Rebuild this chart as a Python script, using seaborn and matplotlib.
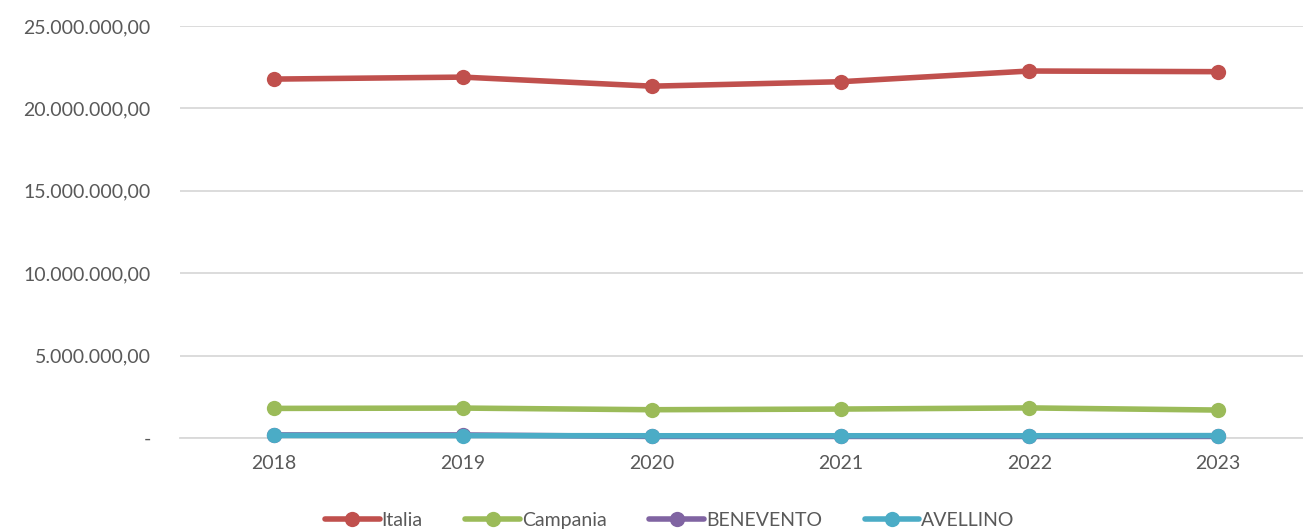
import matplotlib
matplotlib.use('Agg')
import matplotlib.pyplot as plt
import seaborn as sns
import pandas as pd
from matplotlib.ticker import FuncFormatter

# values
anni = ['2018', '2019', '2020', '2021', '2022', '2023']
italia = [21780000, 21900000, 21350000, 21620000, 22270000, 22230000]
campania = [1800000, 1820000, 1720000, 1760000, 1830000, 1700000]
benevento = [190000, 190000, 100000, 100000, 100000, 100000]
avellino = [160000, 150000, 140000, 140000, 140000, 150000]

serie = ['Italia', 'Campania', 'BENEVENTO', 'AVELLINO']
colori = ['#C0504D', '#9BBB59', '#8064A2', '#4BACC6']

df = pd.DataFrame({
    'anno': anni * 4,
    'valore': italia + campania + benevento + avellino,
    'serie': sum([[s] * len(anni) for s in serie], []),
})

sns.set_style('white')
plt.rcParams['font.family'] = ['Lato', 'DejaVu Sans']

fig = plt.figure(figsize=(13.03, 5.31), dpi=100)
ax = fig.add_axes([0.138, 0.175, 0.862, 0.776])

sns.lineplot(data=df, x='anno', y='valore', hue='serie', hue_order=serie,
             palette=colori, marker='o', markersize=11, markeredgewidth=0,
             linewidth=4, sort=False, ax=ax, legend=True)

# let the markers sitting on the zero line show fully
for ln in ax.lines:
    ln.set_clip_on(False)
    ln.set_zorder(5)

ax.set_ylim(0, 25000000)
ax.set_xlim(-0.5, 5.45)
ax.set_yticks(range(0, 25000001, 5000000))


def fmt(v, pos):
    if v == 0:
        return '-'
    return f'{v:,.2f}'.replace(',', 'X').replace('.', ',').replace('X', '.')


ax.yaxis.set_major_formatter(FuncFormatter(fmt))
ax.grid(axis='y', color='#D9D9D9', linewidth=1.3)
ax.set_axisbelow(True)
for s in ['top', 'right', 'left']:
    ax.spines[s].set_visible(False)
ax.spines['bottom'].set_color('#D9D9D9')
ax.spines['bottom'].set_linewidth(1.3)
ax.spines['bottom'].set_zorder(1)
ax.tick_params(axis='both', length=0, colors='#595959', labelsize=14)
ax.tick_params(axis='y', pad=21)
ax.tick_params(axis='x', pad=12)
ax.set_xlabel('')
ax.set_ylabel('')

handles, labels = ax.get_legend_handles_labels()
ax.get_legend().remove()
leg = fig.legend(handles, labels, loc='center', bbox_to_anchor=(0.514, 0.02),
                 ncol=4, frameon=False, fontsize=14, handlelength=2.8,
                 columnspacing=2.2, handletextpad=0.1)
for t in leg.get_texts():
    t.set_color('#595959')

fig.savefig('out.png', dpi=100)
